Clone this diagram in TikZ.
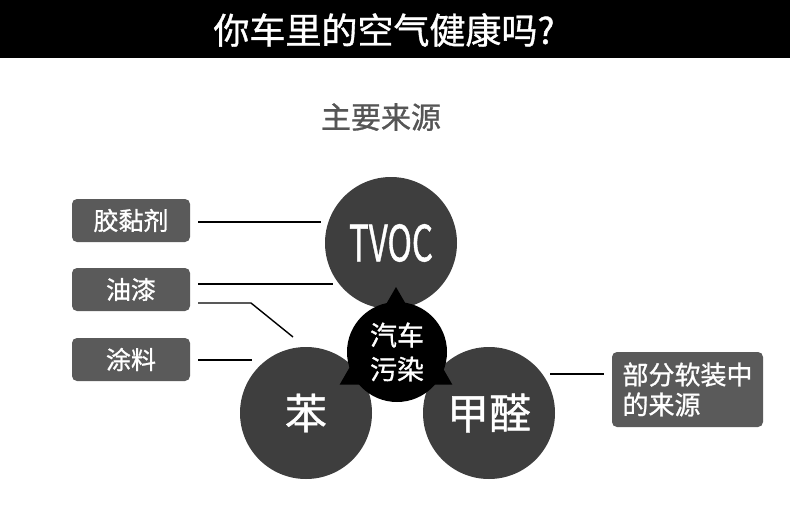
\documentclass[tikz,border=0pt]{standalone}
\usepackage{fontspec}
\setmainfont{Noto Sans CJK SC}[FakeBold=1]
\usetikzlibrary{positioning, shapes.geometric}
\definecolor{carDark}{HTML}{3E3E3E}
\definecolor{carBox}{HTML}{5A5A5A}
\definecolor{carGrey}{HTML}{555555}

\begin{document}
\begin{tikzpicture}[x=1pt, y=-1pt,
  source/.style={fill=carBox, rounded corners=5pt, minimum width=118pt,
    minimum height=43pt, inner sep=0pt, text=white, font=\fontsize{25}{30}\selectfont},
  blob/.style={circle, fill=carDark, minimum size=132pt, inner sep=0pt,
    text=white, font=\fontsize{42}{46}\selectfont},
  hub/.style={circle, fill=black, minimum size=100pt, inner sep=0pt,
    text=white, align=center, font=\fontsize{27}{34}\selectfont},
  tri/.style={regular polygon, regular polygon sides=3, fill=black,
    minimum size=130pt, inner sep=0pt},
  link/.style={black, line width=1.4pt}]

\useasboundingbox[fill=white] (0,0) rectangle (790,506);
\fill[black] (0,0) rectangle (790,58);
\node[text=white, font=\fontsize{36}{40}\selectfont] (head) at (384,30) {你车里的空气健康吗?};
\node[text=carGrey, font=\fontsize{30}{34}\selectfont] (sub) at (381,117) {主要来源};

% the three pollutants
\node[blob] (tvoc) at (391,243) {\scalebox{0.66}[1]{\fontsize{50}{54}\selectfont TVOC}};
\node[blob] (benz) at (306,413) {苯};
\node[blob] (form) at (489,413) {甲醛};

\node[tri] (tri) at (396,352) {};
\node[hub] (hub) at (397,352) {汽车\\污染};

% sources
\node[source] (glue)  at (131,220.5) {胶黏剂};
\node[source] (paint) at (131,289.5) {油漆};
\node[source] (coat)  at (131,359.5) {涂料};
\node[source, align=left, inner xsep=9pt, minimum width=151pt, minimum height=75pt,
  font=\fontsize{26}{30}\selectfont] (soft) at (687.5,389.5) {部分软装中\\的来源};

\coordinate (glueEnd)   at (321,222);
\coordinate (paintEnd)  at (333,284);
\coordinate (paintBend) at (251,303);
\coordinate (paintTip)  at (293,337);
\coordinate (coatEnd)   at (252,360);
\coordinate (softEnd)   at (550,374);

\draw[link] ([shift={(8,1.5)}]glue.east) -- (glueEnd);
\draw[link] ([shift={(8,-5.5)}]paint.east) -- (paintEnd);
\draw[link] ([shift={(8,13.5)}]paint.east) -- (paintBend) -- (paintTip);
\draw[link] ([shift={(8,0.5)}]coat.east) -- (coatEnd);
\draw[link] (softEnd) -- ([shift={(-8,-15.5)}]soft.west);
\end{tikzpicture}
\end{document}
